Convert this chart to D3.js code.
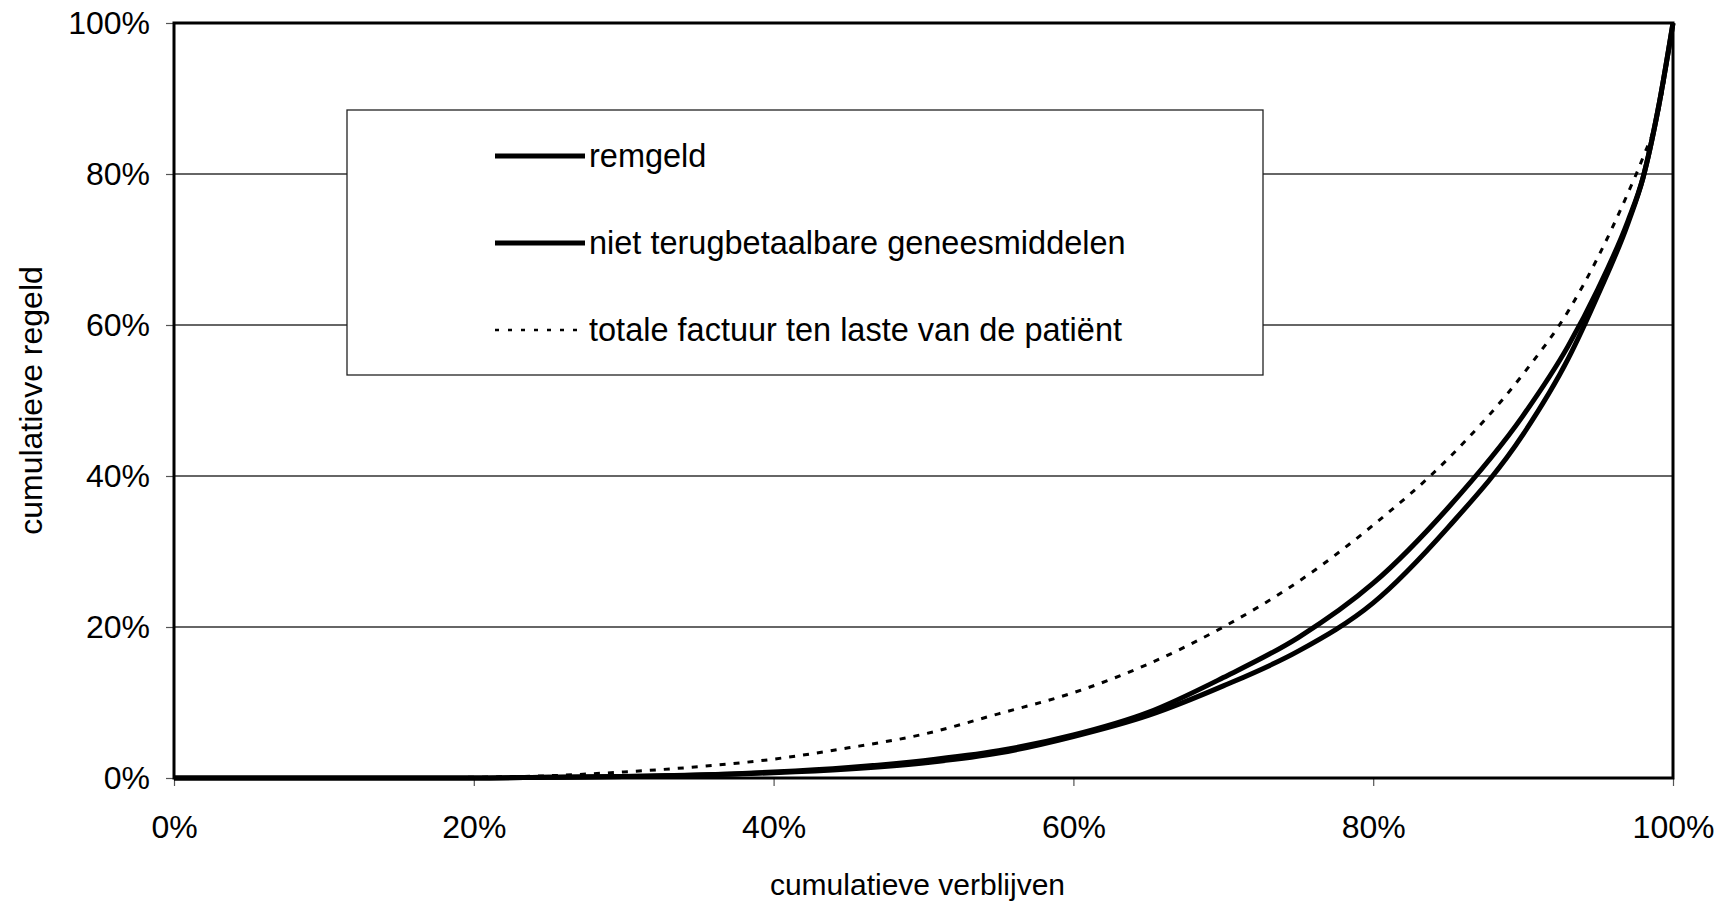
<!DOCTYPE html>
<html>
<head>
<meta charset="utf-8">
<script src="https://cdn.jsdelivr.net/npm/d3@7"></script>
<style>
  html, body { margin: 0; padding: 0; background: #fff; }
  svg { display: block; }
  text { font-family: "Liberation Sans", Arial, sans-serif; fill: #000; }
</style>
</head>
<body>
<svg id="chart" width="1728" height="908"></svg>
<script>
// ---- data ----
const xValues = [0, 0.05, 0.1, 0.15, 0.2, 0.25, 0.3, 0.35, 0.4, 0.45, 0.5, 0.55, 0.6, 0.65, 0.7, 0.75, 0.8, 0.85, 0.9, 0.93, 0.95, 0.97, 0.98, 0.99, 1.0];
const remgeld = [0, 0, 0, 0, 0, 0.001, 0.002, 0.004, 0.008, 0.014, 0.023, 0.036, 0.057, 0.087, 0.133, 0.186, 0.258, 0.358, 0.480, 0.572, 0.648, 0.738, 0.795, 0.885, 1.0];
const nietTerugbetaalbaar = [0, 0, 0, 0, 0, 0.001, 0.002, 0.004, 0.007, 0.012, 0.020, 0.033, 0.055, 0.083, 0.122, 0.168, 0.232, 0.332, 0.455, 0.555, 0.640, 0.735, 0.795, 0.885, 1.0];
const totaleFactuur = [0, 0, 0, 0, 0.001, 0.003, 0.008, 0.015, 0.025, 0.040, 0.058, 0.085, 0.113, 0.151, 0.200, 0.260, 0.335, 0.423, 0.535, 0.618, 0.690, 0.775, 0.822, 0.880, 1.0];
const tickValues = [0, 0.2, 0.4, 0.6, 0.8, 1.0];
const tickLabels = ["0%", "20%", "40%", "60%", "80%", "100%"];
const seriesNames = ["remgeld", "niet terugbetaalbare geneesmiddelen", "totale factuur ten laste van de patiënt"];
const xTitle = "cumulatieve verblijven";
const yTitle = "cumulatieve regeld";

// ---- layout ----
const svg = d3.select("#chart");
const L = 174, R = 1673, T = 23, B = 778;
const x = d3.scaleLinear().domain([0, 1]).range([L, R]);
const y = d3.scaleLinear().domain([0, 1]).range([B, T]);

// gridlines
svg.append("g").selectAll("line")
  .data(tickValues.filter(v => v > 0 && v < 1))
  .join("line")
  .attr("x1", L).attr("x2", R)
  .attr("y1", d => y(d)).attr("y2", d => y(d))
  .attr("stroke", "#333").attr("stroke-width", 1.3);

// axes (ticks + labels)
const fmt = d => tickLabels[tickValues.indexOf(d)];
const yAxis = svg.append("g").attr("transform", `translate(${L},0)`)
  .call(d3.axisLeft(y).tickValues(tickValues).tickFormat(fmt).tickSize(8).tickPadding(16));
yAxis.select(".domain").remove();
yAxis.selectAll("line").attr("stroke", "#555").attr("stroke-width", 1.2);
yAxis.selectAll("text").style("font-size", "32px").attr("dy", "0.33em")
  .style("font-family", "'Liberation Sans', Arial, sans-serif").attr("fill", "#000");

const xAxis = svg.append("g").attr("transform", `translate(0,${B})`)
  .call(d3.axisBottom(x).tickValues(tickValues).tickFormat(fmt).tickSize(8).tickPadding(30));
xAxis.select(".domain").remove();
xAxis.selectAll("line").attr("stroke", "#555").attr("stroke-width", 1.2);
xAxis.selectAll("text").style("font-size", "32px").attr("dy", "0")
  .style("font-family", "'Liberation Sans', Arial, sans-serif").attr("fill", "#000");
xAxis.selectAll("text").attr("y", 60);

// legend box
const legX = 347, legY = 110, legW = 1263 - 347, legH = 375 - 110;
svg.append("rect").attr("x", legX).attr("y", legY).attr("width", legW).attr("height", legH)
  .attr("fill", "#fff").attr("stroke", "#222").attr("stroke-width", 1.3);

// curves
const line = d3.line().x(d => x(d[0])).y(d => y(d[1])).curve(d3.curveMonotoneX);
const series = [
  { name: seriesNames[0], values: remgeld, dash: null, width: 5 },
  { name: seriesNames[1], values: nietTerugbetaalbaar, dash: null, width: 5 },
  { name: seriesNames[2], values: totaleFactuur, dash: "6,8", width: 3 }
];
svg.append("g").selectAll("path")
  .data(series)
  .join("path")
  .attr("d", s => line(xValues.map((xv, i) => [xv, s.values[i]])))
  .attr("fill", "none")
  .attr("stroke", "#000")
  .attr("stroke-width", s => s.width)
  .attr("stroke-dasharray", s => s.dash)
  .attr("stroke-linejoin", "round");

// plot frame
svg.append("rect").attr("x", L).attr("y", T).attr("width", R - L).attr("height", B - T)
  .attr("fill", "none").attr("stroke", "#000").attr("stroke-width", 3);

// legend entries
const rowY = [156, 243, 330];
const leg = svg.append("g").selectAll("g").data(series).join("g")
  .attr("transform", (d, i) => `translate(0,${rowY[i]})`);
leg.append("line").attr("x1", 495).attr("x2", 585).attr("y1", 0).attr("y2", 0)
  .attr("stroke", "#000").attr("stroke-width", d => d.dash ? 2.5 : 5)
  .attr("stroke-dasharray", d => d.dash ? "4,9" : null);
leg.append("text").attr("x", 589).attr("y", 0).attr("dy", "0.35em")
  .style("font-size", "32.5px").text(d => d.name);

// axis titles
svg.append("text").attr("x", (L + R) / 2 - 6).attr("y", 895).attr("text-anchor", "middle")
  .style("font-size", "30px").text(xTitle);
svg.append("text").attr("transform", `translate(42,${(T + B) / 2}) rotate(-90)`)
  .attr("text-anchor", "middle").style("font-size", "32px").text(yTitle);
</script>
</body>
</html>
